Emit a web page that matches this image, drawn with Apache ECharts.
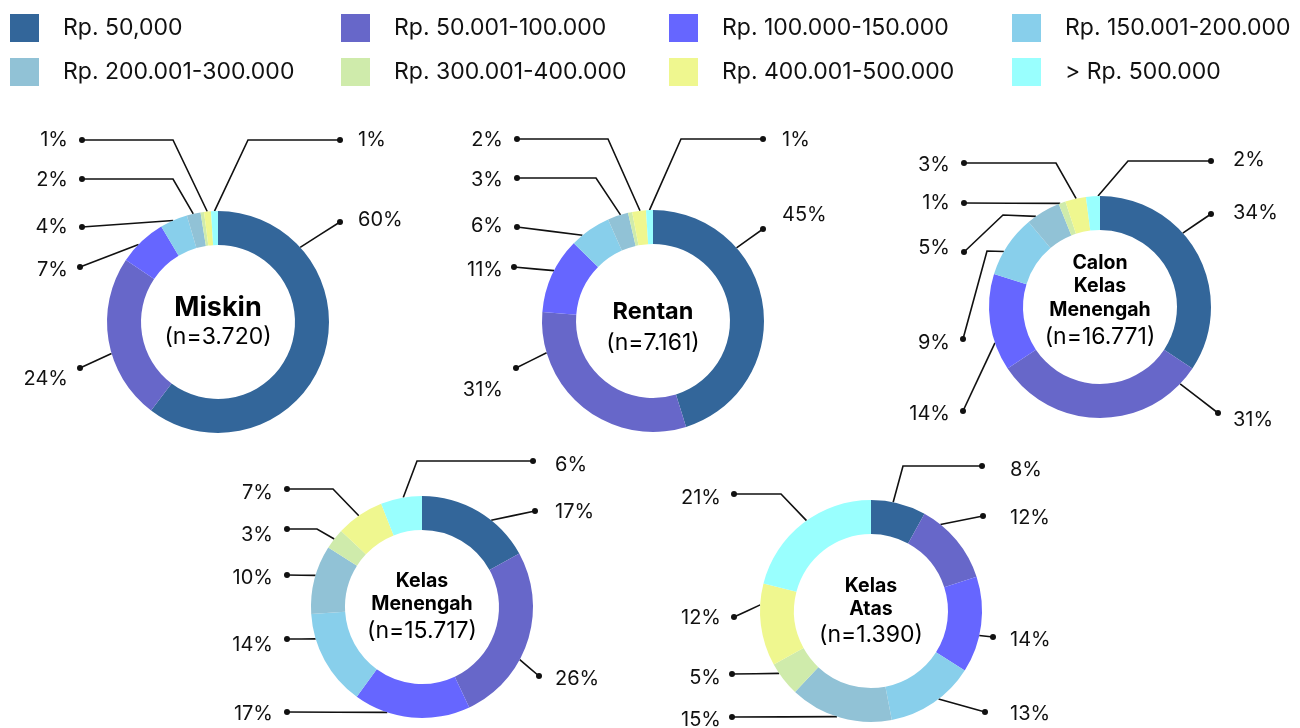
<!DOCTYPE html>
<html>
<head>
<meta charset="utf-8">
<script src="https://cdn.jsdelivr.net/npm/echarts@6/dist/echarts.min.js"></script>
<style>
  html, body { margin: 0; padding: 0; background: #ffffff; }
  #chart { width: 1300px; height: 728px; }
</style>
</head>
<body>
<div id="chart"></div>
<script>
// Spending brackets (legend order = slice order, clockwise from 12 o'clock)
const categories = [
  'Rp. 50,000', 'Rp. 50.001-100.000', 'Rp. 100.000-150.000', 'Rp. 150.001-200.000',
  'Rp. 200.001-300.000', 'Rp. 300.001-400.000', 'Rp. 400.001-500.000', '> Rp. 500.000'
];
const groupTitles = ['Miskin', 'Rentan', 'Calon\nKelas\nMenengah', 'Kelas\nMenengah', 'Kelas\nAtas'];
const sampleSizes = ['3.720', '7.161', '16.771', '15.717', '1.390'];

// Share of households per bracket (%)
const miskin = [60, 24, 7, 4, 2, 0.5, 1, 1];
const rentan = [45, 31, 11, 6, 3, 0.6, 2, 1];
const calonKelasMenengah = [34, 31, 14, 9, 5, 1, 3, 2];
const kelasMenengah = [17, 26, 17, 14, 10, 3, 7, 6];
const kelasAtas = [8, 12, 14, 13, 15, 5, 12, 21];
const groupValues = [miskin, rentan, calonKelasMenengah, kelasMenengah, kelasAtas];

const palette = ['#33669A', '#6767C9', '#6666FF', '#88CFEB', '#91C2D6', '#CFEBAB', '#EFF78F', '#99FFFE'];
const FONT = 'Inter, "Noto Sans", sans-serif';
const RING = [77, 111];

// Donut placement, centre-text sizing and label callouts.
// Callout entry: [dotDx, dotDy, t (position along slice), elbow [dx,dy] or null, textDy]
const LAYOUT = [
  { center: [218, 322], textX: [-150, 140], titleDy: 1, bold: 27, boldLH: 28, subLH: 30,
    labels: [
      [122, -100, 0.22, null, -2],
      [-138, 46, 0.42, null, 11],
      [-138, -55, 0.41, null, 3],
      [-136, -95, 0.48, null, 0],
      [-136, -143, 0.47, [-45, -143], 1],
      null,
      [-136, -182, 0.46, [-45, -182], 0],
      [122, -182, 0.5, [30, -182], 0]
    ] },
  { center: [653, 321], textX: [-150, 129], titleDy: 7, bold: 23.5, boldLH: 30, subLH: 32,
    labels: [
      [110, -92, 0.30, null, -14],
      [-137, 47, 0.81, null, 22],
      [-139, -54, 0.56, null, 3],
      [-136, -94, 0.28, null, -1],
      [-136, -143, 0.63, [-57, -143], 2],
      null,
      [-136, -182, 0.57, [-45, -182], 1],
      [110, -182, 0.5, [28, -182], 1]
    ] },
  { center: [1100, 307], textX: [-150, 133], titleDy: -5.5, bold: 19.5, boldLH: 23.5, subLH: 30,
    labels: [
      [111, -93, 0.39, null, -1.5],
      [118, 106, 0.09, null, 6.5],
      [-137, 104, 0.29, null, 2.5],
      [-137, 32, 0.39, [-113, -56], 3.5],
      [-136, -55, 0.26, [-97, -92], -4.5],
      [-136, -104, 0.22, null, -0.5],
      [-136, -144, 0.53, [-44, -144], 1.5],
      [111, -146, 0.86, [28, -146], -1.5]
    ] },
  { center: [422, 607], textX: [-149, 133], titleDy: 0.5, bold: 19.5, boldLH: 23.5, subLH: 30,
    labels: [
      [113, -96, 0.63, null, 0.5],
      [117, 69, 0.61, null, 2.5],
      [-135, 105, 0.71, null, 1.5],
      [-135, 32, 0.74, null, 5.5],
      [-135, -32, 0.56, null, 2.5],
      [-135, -78, 0.5, [-105, -78], 6],
      [-135, -118, 0.48, [-89, -118], 3.5],
      [111, -146, 0.55, [-5, -146], 4]
    ] },
  { center: [871, 611], textX: [-150, 139], titleDy: 0.5, bold: 19.5, boldLH: 23.5, subLH: 28,
    labels: [
      [111, -145, 0.4, [32, -145], 3.5],
      [112, -95, 0.23, null, 1.5],
      [122, 26, 0.61, null, 3],
      [114, 101, 0.43, null, 1.5],
      [-139, 106, 0.53, null, 2.5],
      [-139, 63, 0.7, null, 3.5],
      [-137, 6, 0.74, null, 0.5],
      [-137, -117, 0.53, [-90, -117], 3.5]
    ] }
];

const DOT = { width: 6, height: 6, borderRadius: 3, backgroundColor: '#111111' };

function itemLabel(value, spec, callout) {
  if (!callout) return { show: false };
  const [dx, , , , tdy] = callout;
  const right = dx > 0;
  const pt = tdy > 0 ? 2 * tdy : 0;
  const pb = tdy < 0 ? -2 * tdy : 0;
  const gap = right ? spec.textX[1] - dx - 3 : (dx - 3) - spec.textX[0];
  const txt = { fontSize: 20, fontFamily: FONT, color: '#111111',
    padding: right ? [pt, 0, pb, gap] : [pt, gap, pb, 0] };
  return {
    show: true,
    formatter: right ? '{d|}{t|' + value + '%}' : '{t|' + value + '%}{d|}',
    rich: { d: DOT, t: txt }
  };
}

function calloutLayout(params) {
  const s = params.seriesIndex, i = params.dataIndex;
  const spec = LAYOUT[s];
  const callout = spec.labels[i];
  if (!callout) return {};
  const [dx, dy, t, elbow] = callout;
  const [cx, cy] = spec.center;
  const vals = groupValues[s];
  const total = vals.reduce((a, b) => a + b, 0);
  let acc = 0;
  for (let k = 0; k < i; k++) acc += vals[k];
  const a = ((acc + t * vals[i]) / total) * 2 * Math.PI;
  const start = [cx + RING[1] * Math.sin(a), cy - RING[1] * Math.cos(a)];
  const dot = [cx + dx, cy + dy];
  const mid = elbow ? [cx + elbow[0], cy + elbow[1]] : [(start[0] + dot[0]) / 2, (start[1] + dot[1]) / 2];
  const right = dx > 0;
  return {
    x: right ? dot[0] - 3 : dot[0] + 3,
    y: dot[1],
    align: right ? 'left' : 'right',
    verticalAlign: 'middle',
    labelLinePoints: [start, mid, dot]
  };
}

const series = groupValues.map((vals, s) => {
  const spec = LAYOUT[s];
  return {
    type: 'pie',
    name: groupTitles[s].replace(/\n/g, ' '),
    radius: RING,
    center: spec.center,
    startAngle: 90,
    clockwise: true,
    avoidLabelOverlap: false,
    emphasis: { disabled: true },
    itemStyle: { borderWidth: 0 },
    label: { show: true, position: 'outside', color: '#111111', fontFamily: FONT, fontSize: 20 },
    labelLine: { show: true, lineStyle: { color: '#111111', width: 1.6 } },
    labelLayout: calloutLayout,
    data: vals.map((v, i) => ({
      name: categories[i],
      value: v,
      label: itemLabel(v, spec, spec.labels[i]),
      labelLine: { show: !!spec.labels[i] }
    }))
  };
});

const legendX = [10, 341, 669, 1012];
const legend = legendX.map((x, c) => ({
  orient: 'vertical',
  left: x,
  top: 14,
  padding: 0,
  icon: 'rect',
  itemWidth: 29,
  itemHeight: 28,
  itemGap: 16,
  selectedMode: false,
  data: [categories[c], categories[c + 4]],
  textStyle: { fontSize: 23, fontFamily: FONT, color: '#111111', padding: [0, 0, 0, 19] }
}));

const graphic = LAYOUT.map((spec, s) => {
  const lines = groupTitles[s].split('\n').map(l => '{b|' + l + '}');
  lines.push('{n|(n=' + sampleSizes[s] + ')}');
  return {
    type: 'text',
    x: spec.center[0],
    y: spec.center[1] + spec.titleDy,
    silent: true,
    style: {
      text: lines.join('\n'),
      align: 'center',
      verticalAlign: 'middle',
      rich: {
        b: { fontSize: spec.bold, fontWeight: 700, fontFamily: FONT, fill: '#000000', lineHeight: spec.boldLH, align: 'center' },
        n: { fontSize: 23, fontFamily: FONT, fill: '#000000', lineHeight: spec.subLH, align: 'center' }
      }
    }
  };
});

const chart = echarts.init(document.getElementById('chart'), null, { renderer: 'canvas' });
chart.setOption({
  animation: false,
  backgroundColor: '#ffffff',
  color: palette,
  legend: legend,
  series: series,
  graphic: graphic
});
</script>
</body>
</html>
